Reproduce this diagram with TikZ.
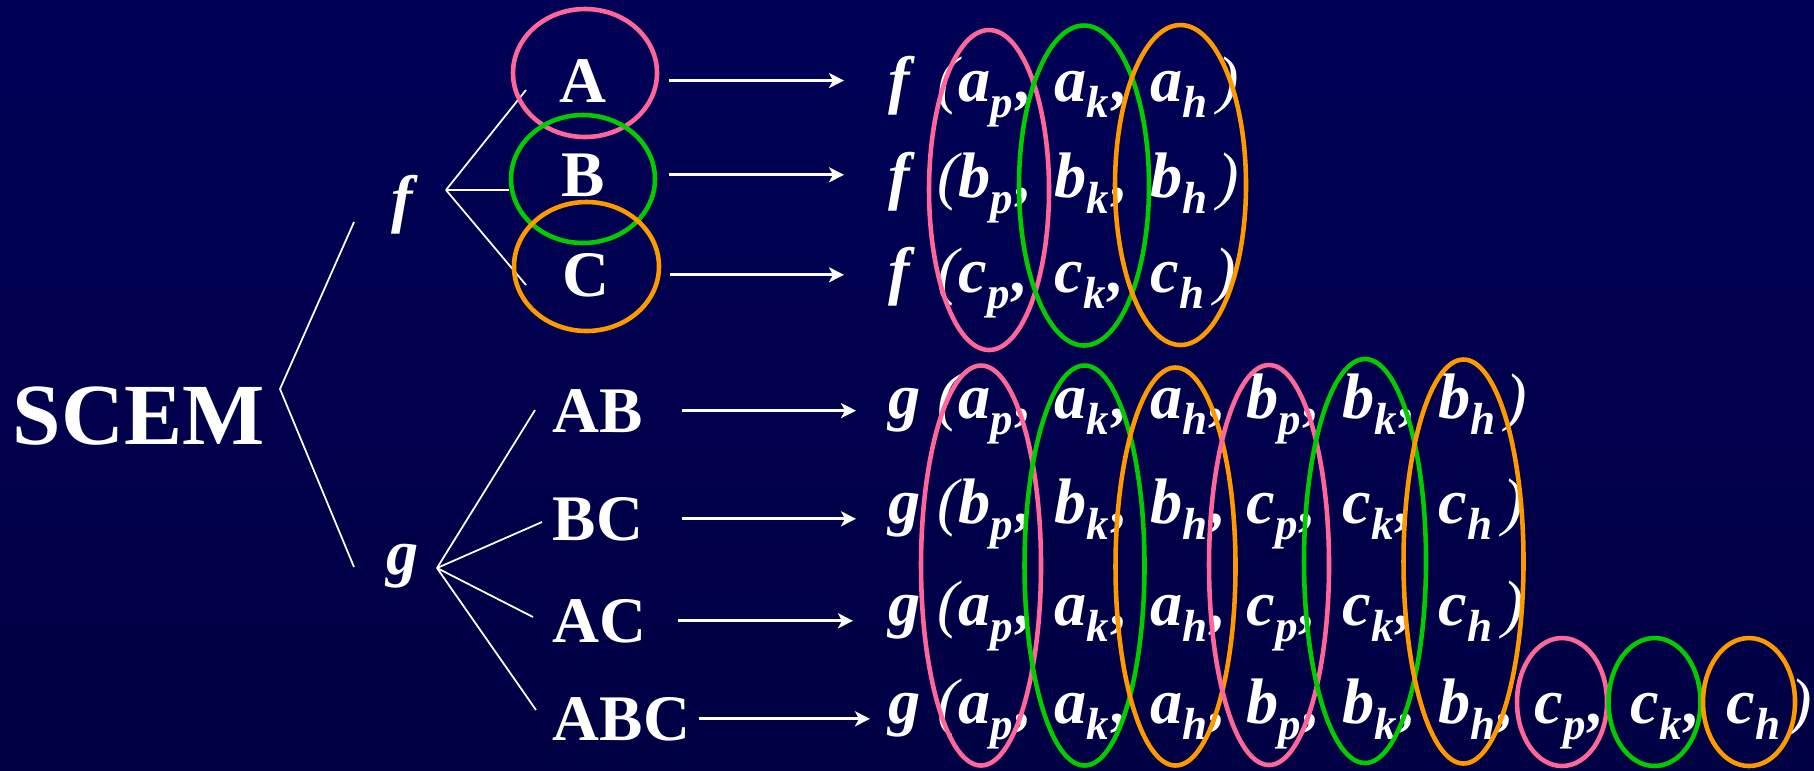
\documentclass[tikz,border=0pt]{standalone}
\usepackage{fontspec}
\setmainfont{Liberation Serif}
\usetikzlibrary{arrows.meta, calc}
\definecolor{navytop}{RGB}{0,0,86}
\definecolor{navymid}{RGB}{0,0,58}
\definecolor{navybot}{RGB}{0,0,68}
\definecolor{ringpink}{RGB}{255,102,153}
\definecolor{ringgreen}{RGB}{0,204,0}
\definecolor{ringorange}{RGB}{255,153,0}
\newcommand*{\Idx}[2]{#1\raisebox{-4.8pt}{\fontsize{12.8}{13}\selectfont #2}}
\newcommand*{\Term}[2]{\makebox[0.96cm][l]{\Idx{#1}{#2}\hspace{0.03cm},}}
\newcommand*{\Func}[1]{\makebox[0.70cm][l]{#1\hfill{\mdseries(}}}
\newcommand*{\Close}{\hspace{0.1cm}{\mdseries)}}
\tikzset{
    lbl/.style={text=white, inner sep=0pt, anchor=base, font=\fontsize{18.5}{22}\selectfont\bfseries},
    fx/.style={text=white, inner sep=0pt, anchor=base west, font=\fontsize{18.3}{21}\selectfont\bfseries\itshape},
    twig/.style={white, line width=0.5pt},
    arr/.style={white, line width=0.85pt, -{Stealth[length=0.15cm, width=0.15cm, inset=0.04cm]}},
    ring/.style={line width=1.3pt}
}

\begin{document}
\begin{tikzpicture}
    \shade[top color=navytop, middle color=navymid, bottom color=navybot] (0,0) rectangle (18.14,-7.70);
    \useasboundingbox (0,0) rectangle (18.14,-7.70);
    \node[lbl, anchor=base west, font=\fontsize{24.8}{28}\selectfont\bfseries] (scem) at (0.12,-4.44) {SCEM};
    \node[fx, anchor=base] (f) at (4.02,-2.20) {f};
    \node[fx, anchor=base] (g) at (4.03,-5.74) {g};
    \coordinate (root) at (2.80,-3.89);
    \coordinate (ftip) at (3.54,-2.22);
    \coordinate (gtip) at (3.54,-5.67);
    \coordinate (fj) at (4.46,-1.90);
    \coordinate (gj) at (4.37,-5.68);
    \draw[twig] (ftip) -- (root) -- (gtip);
    \node[lbl] (A) at (5.83,-1.02) {A};
    \node[lbl] (B) at (5.83,-1.96) {B};
    \node[lbl] (C) at (5.86,-2.96) {C};
    \node[lbl, anchor=base west] (AB) at (5.52,-4.32) {AB};
    \node[lbl, anchor=base west] (BC) at (5.52,-5.40) {BC};
    \node[lbl, anchor=base west] (AC) at (5.52,-6.42) {AC};
    \node[lbl, anchor=base west] (ABC) at (5.52,-7.40) {ABC};
    \coordinate (tA) at (5.26,-0.90);
    \coordinate (tB) at (5.09,-1.90);
    \coordinate (tC) at (5.26,-2.85);
    \coordinate (tAB) at (5.35,-4.10);
    \coordinate (tBC) at (5.42,-5.22);
    \coordinate (tAC) at (5.33,-6.17);
    \coordinate (tABC) at (5.36,-7.10);
    \draw[twig] (fj) -- (tA);
    \draw[twig] (fj) -- (tB);
    \draw[twig] (fj) -- (tC);
    \draw[twig] (gj) -- (tAB);
    \draw[twig] (gj) -- (tBC);
    \draw[twig] (gj) -- (tAC);
    \draw[twig] (gj) -- (tABC);
    \node[fx] (fa) at (8.88,-1.01) {\Func{f}\Term{a}{p}\Term{a}{k}\Idx{a}{h}\Close};
    \node[fx] (fb) at (8.88,-1.97) {\Func{f}\Term{b}{p}\Term{b}{k}\Idx{b}{h}\Close};
    \node[fx] (fc) at (8.88,-2.92) {\Func{f}\Term{c}{p}\Term{c}{k}\Idx{c}{h}\Close};
    \node[fx] (gab) at (8.88,-4.18) {\Func{g}\Term{a}{p}\Term{a}{k}\Term{a}{h}\Term{b}{p}\Term{b}{k}\Idx{b}{h}\Close};
    \node[fx] (gbc) at (8.88,-5.23) {\Func{g}\Term{b}{p}\Term{b}{k}\Term{b}{h}\Term{c}{p}\Term{c}{k}\Idx{c}{h}\Close};
    \node[fx] (gac) at (8.88,-6.25) {\Func{g}\Term{a}{p}\Term{a}{k}\Term{a}{h}\Term{c}{p}\Term{c}{k}\Idx{c}{h}\Close};
    \node[fx] (gabc) at (8.88,-7.23) {\Func{g}\Term{a}{p}\Term{a}{k}\Term{a}{h}\Term{b}{p}\Term{b}{k}\Term{b}{h}\Term{c}{p}\Term{c}{k}\Idx{c}{h}\Close};
    \draw[arr, shorten <=0.62cm, shorten >=0.44cm] (A.east) -- (A.east -| fa.west);
    \draw[arr, shorten <=0.64cm, shorten >=0.44cm] (B.east) -- (B.east -| fb.west);
    \draw[arr, shorten <=0.60cm, shorten >=0.44cm] (C.east) -- (C.east -| fc.west);
    \draw[arr, shorten <=0.38cm, shorten >=0.32cm] (AB.east) -- (AB.east -| gab.west);
    \draw[arr, shorten <=0.38cm, shorten >=0.32cm] (BC.east) -- (BC.east -| gbc.west);
    \draw[arr, shorten <=0.31cm, shorten >=0.35cm] (AC.east) -- (AC.east -| gac.west);
    \draw[arr, shorten <=0.08cm, shorten >=0.18cm] (ABC.east) -- (ABC.east -| gabc.west);
    \draw[ring, ringpink] (5.85,-0.73) ellipse (0.72 and 0.64);
    \draw[ring, ringgreen] (5.83,-1.79) ellipse (0.72 and 0.64);
    \draw[ring, ringorange] (5.865,-2.665) ellipse (0.725 and 0.645);
    \draw[ring, ringpink] (9.89,-1.90) ellipse (0.60 and 1.60);
    \draw[ring, ringgreen] (10.84,-1.855) ellipse (0.65 and 1.60);
    \draw[ring, ringorange] (11.805,-1.85) ellipse (0.655 and 1.60);
    \draw[ring, ringpink] (9.81,-5.655) ellipse (0.60 and 2.00);
    \draw[ring, ringgreen] (10.845,-5.655) ellipse (0.60 and 2.00);
    \draw[ring, ringorange] (11.755,-5.665) ellipse (0.60 and 1.99);
    \draw[ring, ringpink] (12.69,-5.65) ellipse (0.60 and 2.00);
    \draw[ring, ringgreen] (13.65,-5.61) ellipse (0.61 and 2.02);
    \draw[ring, ringorange] (14.635,-5.615) ellipse (0.60 and 2.02);
    \draw[ring, ringpink] (15.62,-7.02) ellipse (0.45 and 0.64);
    \draw[ring, ringgreen] (16.545,-7.02) ellipse (0.46 and 0.64);
    \draw[ring, ringorange] (17.49,-7.02) ellipse (0.46 and 0.64);
\end{tikzpicture}
\end{document}
